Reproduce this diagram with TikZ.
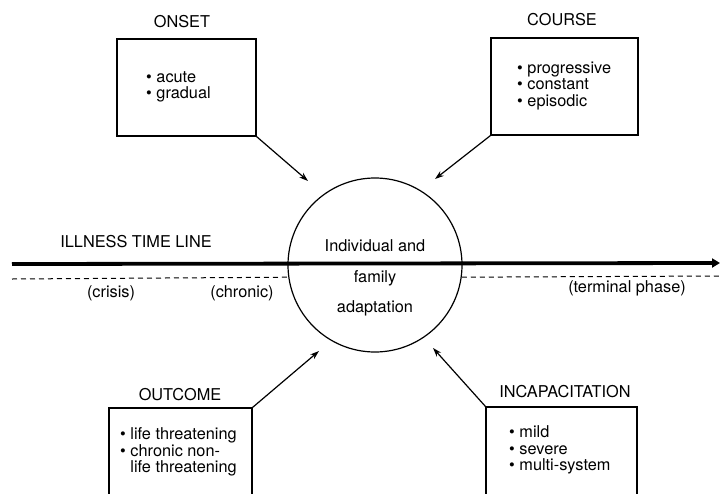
\documentclass[tikz,border=0pt]{standalone}
\usepackage{fontspec}
\setmainfont{TeX Gyre Heros}
\usetikzlibrary{arrows.meta}
\begin{document}
\begin{tikzpicture}[x=1pt,y=-1pt,
  every node/.style={font=\fontsize{16.3}{16.5}\selectfont, inner sep=0pt},
  factorbox/.style={draw, line width=1.2pt, rectangle, minimum width=#1},
  heading/.style={anchor=center},
  items/.style={anchor=west, align=left},
  feed/.style={line width=1.2pt, -{Stealth[length=9pt,width=6pt]}},
  timeline/.style={line width=3.8pt, -{Triangle[length=8pt,width=9pt]}},
  phase/.style={line width=1pt, dash pattern=on 5pt off 4pt}]
\path[use as bounding box, clip] (0,0) rectangle (720,493);

% central circle
\node[circle, draw, line width=1.2pt, minimum size=174pt] (circ) at (375,265) {};
\node[align=center, font=\fontsize{16.3}{30.5}\selectfont] (circtext) at (375,278)
  {Individual and\\family\\adaptation};

% factor boxes
\node[factorbox=139pt, minimum height=97pt] (onset) at (186.5,87.5) {};
\node[factorbox=147pt, minimum height=97pt] (course) at (564.5,86.5) {};
\node[factorbox=143pt, minimum height=112pt] (outcome) at (180.5,464) {};
\node[factorbox=151pt, minimum height=113pt] (incap) at (561.5,463.5) {};

% headings
\node[heading] (onsethead) at (182,22) {ONSET};
\node[heading] (coursehead) at (562,20) {COURSE};
\node[heading] (outcomehead) at (180,395) {OUTCOME};
\node[heading] (incaphead) at (565,392) {INCAPACITATION};

% box contents
\node[items] (onsetitems) at (146,87) {\textbullet\ acute\\\textbullet\ gradual};
\node[items] (courseitems) at (517,86) {\textbullet\ progressive\\\textbullet\ constant\\\textbullet\ episodic};
\node[items] (outcomeitems) at (120,452) {\textbullet\ life threatening\\\textbullet\ chronic non-\\\phantom{\textbullet\ }life threatening};
\node[items] (incapitems) at (509,450) {\textbullet\ mild\\\textbullet\ severe\\\textbullet\ multi-system};

% arrows into the circle
\coordinate (onsettip) at (308,181);
\coordinate (coursetip) at (435,179);
\coordinate (outcometip) at (319,351);
\coordinate (incaptip) at (433,348);
\draw[feed] (onset.south east) -- (onsettip);
\draw[feed] (course.south west) -- (coursetip);
\draw[feed] (outcome.north east) -- (outcometip);
\draw[feed] (incap.north west) -- (incaptip);

% illness time line
\coordinate (tlstart) at (12,264);
\coordinate (tlend) at (720,263);
\draw[timeline] (tlstart) -- (tlend);
\node[heading] (tlhead) at (136,242) {ILLNESS TIME LINE};

% phases
\coordinate (phasestart) at (12,279);
\coordinate (phaseend) at (720,276);
\draw[phase] (phasestart) -- (circ.188.6);
\draw[phase] (circ.352.7) -- (phaseend);
\node (crisis) at (111,293) {(crisis)};
\node (chronic) at (242,293) {(chronic)};
\node (terminal) at (627,288) {(terminal phase)};
\end{tikzpicture}
\end{document}
